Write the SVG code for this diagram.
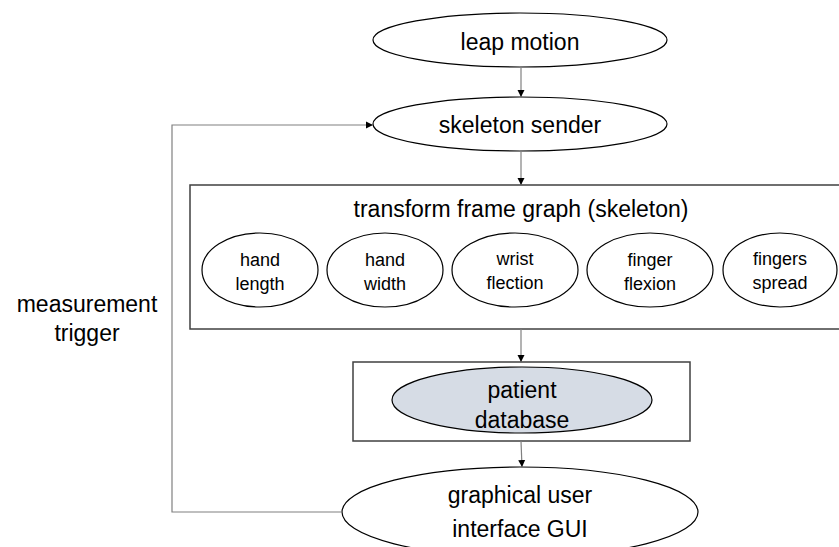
<svg xmlns="http://www.w3.org/2000/svg" width="839" height="547" viewBox="0 0 839 547">
  <style>
    .node { fill: #ffffff; stroke: #000000; stroke-width: 1.2; }
    .frame { fill: #ffffff; stroke: #404040; stroke-width: 1.5; }
    .db { fill: #d6dce5; stroke: #000000; stroke-width: 1.2; }
    .big { font-family: "Liberation Sans", Arial, sans-serif; font-size: 23px; fill: #000000; text-anchor: middle; }
    .small { font-family: "Liberation Sans", Arial, sans-serif; font-size: 18px; fill: #000000; text-anchor: middle; }
    .conn { fill: none; stroke: #808080; stroke-width: 1.2; }
  </style>
  <defs>
    <marker id="arrow" markerWidth="8" markerHeight="8" refX="7" refY="4" orient="auto" markerUnits="userSpaceOnUse">
      <path d="M0,0.5 L7,4 L0,7.5 Z" fill="#000000"/>
    </marker>
  </defs>
  <rect width="839" height="547" fill="#ffffff"/>

  <g id="leap-motion">
    <ellipse class="node" cx="520" cy="40" rx="147" ry="27"/>
    <text class="big" x="520" y="50">leap motion</text>
  </g>

  <g id="skeleton-sender">
    <ellipse class="node" cx="520" cy="124" rx="147" ry="27"/>
    <text class="big" x="520" y="133">skeleton sender</text>
  </g>

  <g id="transform-frame-graph">
    <rect class="frame" x="190" y="185" width="660" height="144"/>
    <text class="big" x="521" y="217">transform frame graph (skeleton)</text>
    <g id="hand-length">
      <ellipse class="node" cx="260" cy="270" rx="58" ry="37"/>
      <text class="small" x="260" y="266">hand</text>
      <text class="small" x="260" y="290">length</text>
    </g>
    <g id="hand-width">
      <ellipse class="node" cx="385" cy="270" rx="58" ry="37"/>
      <text class="small" x="385" y="266">hand</text>
      <text class="small" x="385" y="290">width</text>
    </g>
    <g id="wrist-flection">
      <ellipse class="node" cx="515" cy="270" rx="63" ry="37"/>
      <text class="small" x="515" y="265">wrist</text>
      <text class="small" x="515" y="289">flection</text>
    </g>
    <g id="finger-flexion">
      <ellipse class="node" cx="650" cy="270" rx="63" ry="37"/>
      <text class="small" x="650" y="266">finger</text>
      <text class="small" x="650" y="290">flexion</text>
    </g>
    <g id="fingers-spread">
      <ellipse class="node" cx="780" cy="270" rx="57" ry="37"/>
      <text class="small" x="780" y="265">fingers</text>
      <text class="small" x="780" y="289">spread</text>
    </g>
  </g>

  <g id="patient-database">
    <rect class="frame" x="353" y="362" width="337" height="79"/>
    <ellipse class="db" cx="522" cy="400" rx="130" ry="33"/>
    <text class="big" x="522" y="398">patient</text>
    <text class="big" x="522" y="428">database</text>
  </g>

  <g id="gui">
    <ellipse class="node" cx="520" cy="512" rx="178" ry="45"/>
    <text class="big" x="520" y="503">graphical user</text>
    <text class="big" x="520" y="537">interface GUI</text>
  </g>

  <g id="measurement-trigger-label">
    <text class="big" x="87" y="312">measurement</text>
    <text class="big" x="87" y="341">trigger</text>
  </g>

  <g id="connectors">
    <line class="conn" x1="521" y1="67" x2="521" y2="97" marker-end="url(#arrow)"/>
    <line class="conn" x1="521" y1="151" x2="521" y2="185" marker-end="url(#arrow)"/>
    <line class="conn" x1="521" y1="329" x2="521" y2="362" marker-end="url(#arrow)"/>
    <line class="conn" x1="521" y1="441" x2="522" y2="467" marker-end="url(#arrow)"/>
    <polyline class="conn" points="342,512 172,512 172,125 373,125" marker-end="url(#arrow)"/>
  </g>
</svg>
